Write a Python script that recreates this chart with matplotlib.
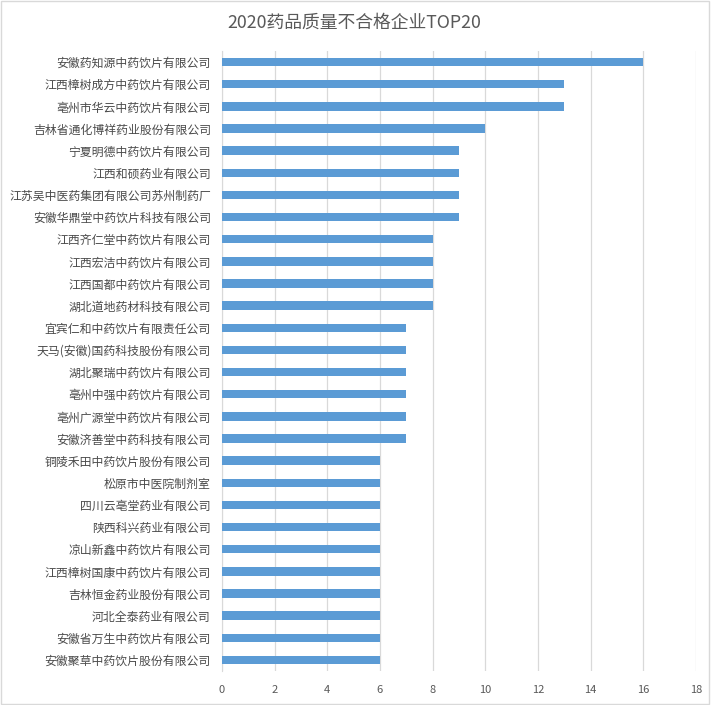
import matplotlib
matplotlib.use("Agg")
import matplotlib.pyplot as plt
from matplotlib.patches import Rectangle

plt.rcParams['font.family'] = ['Noto Sans CJK SC', 'DejaVu Sans']

# data (top to bottom)
companies = [
    "安徽药知源中药饮片有限公司",
    "江西樟树成方中药饮片有限公司",
    "亳州市华云中药饮片有限公司",
    "吉林省通化博祥药业股份有限公司",
    "宁夏明德中药饮片有限公司",
    "江西和硕药业有限公司",
    "江苏吴中医药集团有限公司苏州制药厂",
    "安徽华鼎堂中药饮片科技有限公司",
    "江西齐仁堂中药饮片有限公司",
    "江西宏洁中药饮片有限公司",
    "江西国都中药饮片有限公司",
    "湖北道地药材科技有限公司",
    "宜宾仁和中药饮片有限责任公司",
    "天马(安徽)国药科技股份有限公司",
    "湖北聚瑞中药饮片有限公司",
    "亳州中强中药饮片有限公司",
    "亳州广源堂中药饮片有限公司",
    "安徽济善堂中药科技有限公司",
    "铜陵禾田中药饮片股份有限公司",
    "松原市中医院制剂室",
    "四川云亳堂药业有限公司",
    "陕西科兴药业有限公司",
    "凉山新鑫中药饮片有限公司",
    "江西樟树国康中药饮片有限公司",
    "吉林恒金药业股份有限公司",
    "河北全泰药业有限公司",
    "安徽省万生中药饮片有限公司",
    "安徽聚草中药饮片股份有限公司",
]
counts = [16, 13, 13, 10, 9, 9, 9, 9, 8, 8, 8, 8,
          7, 7, 7, 7, 7, 7, 6, 6, 6, 6, 6, 6, 6, 6, 6, 6]
x_ticks = [0, 2, 4, 6, 8, 10, 12, 14, 16, 18]
title = "2020药品质量不合格企业TOP20"

fig = plt.figure(figsize=(7.12, 7.05), dpi=100)
ax = fig.add_axes([0.3118, 0.0482, 0.6657, 0.8795])

pos = list(range(len(companies)))
ax.barh(pos, counts, height=0.38, color="#5B9BD5", zorder=3)

ax.set_ylim(len(companies) - 0.5, -0.5)
ax.set_xlim(0, 18)
ax.set_xticks(x_ticks)
ax.set_yticks(pos)
ax.set_yticklabels(companies, fontsize=8.55, color="#4a4a4a")
ax.tick_params(axis='x', labelsize=8, colors="#595959", length=0, pad=10)
ax.tick_params(axis='y', length=0, pad=8)

ax.grid(axis='x', color="#D9D9D9", linewidth=0.9, zorder=0)
for s in ["top", "right", "bottom"]:
    ax.spines[s].set_visible(False)
ax.spines["left"].set_color("#D9D9D9")

fig.text(0.498, 0.968, title, ha="center", va="center",
         fontsize=12.8, color="#595959")

# light frame around the chart area
fig.patches.append(Rectangle((0.002, 0.002), 0.994, 0.996, transform=fig.transFigure,
                             fill=False, edgecolor="#D9D9D9", linewidth=1))

fig.savefig("out.png", dpi=100)
